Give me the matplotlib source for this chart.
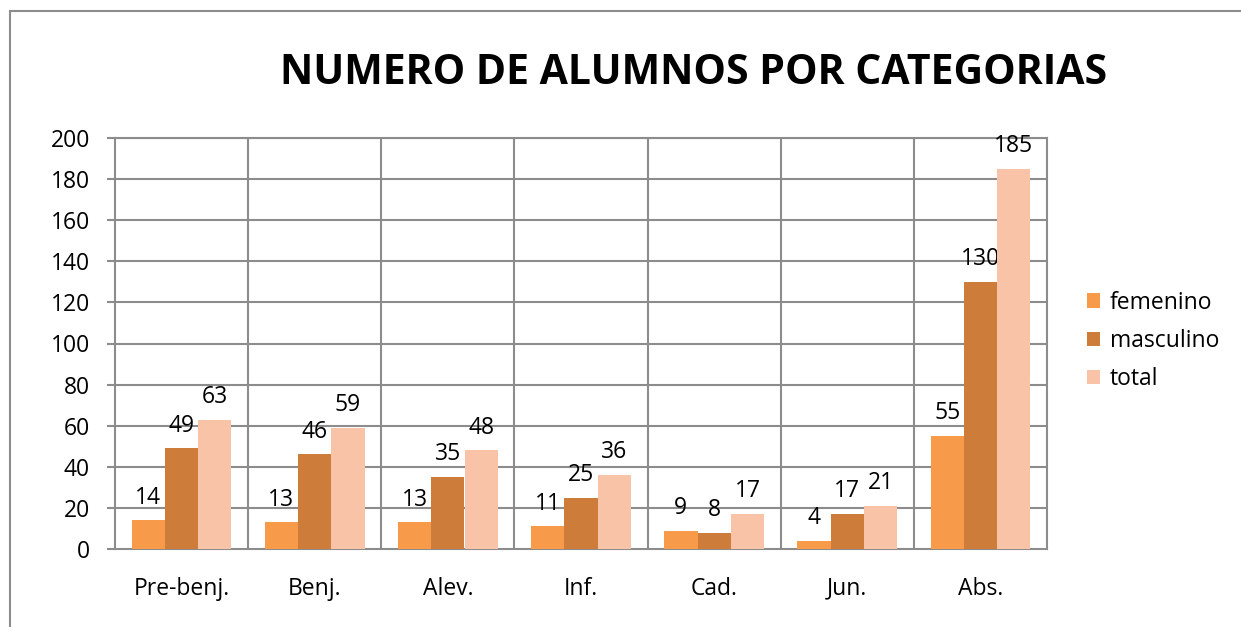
import numpy as np
import matplotlib.pyplot as plt
from matplotlib.patches import Rectangle

# datos del grafico
categorias = ["Pre-benj.", "Benj.", "Alev.", "Inf.", "Cad.", "Jun.", "Abs."]
femenino = [14, 13, 13, 11, 9, 4, 55]
masculino = [49, 46, 35, 25, 8, 17, 130]
total = [63, 59, 48, 36, 17, 21, 185]
series = ["femenino", "masculino", "total"]
colores = ["#F79A4A", "#CD7C39", "#F9C3A8"]

plt.rcParams['font.family'] = ['Open Sans', 'DejaVu Sans']

fig = plt.figure(figsize=(12.41, 6.27), dpi=100)
fig.patches.append(Rectangle((10/1241, -0.2), 1.2, 1.2 - 11/627, transform=fig.transFigure,
                             fill=False, edgecolor="#8c8c8c", linewidth=1.5))

ax = fig.add_axes([115/1241, 1 - 549/627, (1047 - 115)/1241, (549 - 138)/627])

x = np.arange(len(categorias))
w = 0.25
for i, (vals, nombre, c) in enumerate(zip([femenino, masculino, total], series, colores)):
    bars = ax.bar(x + (i - 1)*w, vals, w, color=c, label=nombre, zorder=3)
    for b, v in zip(bars, vals):
        ax.annotate(str(v), (b.get_x() + b.get_width()/2, v), xytext=(0, 12),
                    textcoords="offset points", ha="center", va="baseline", fontsize=16.5)

ax.set_xlim(-0.5, len(categorias) - 0.5)
ax.set_ylim(0, 200)
ax.set_yticks(np.arange(0, 201, 20))
ax.set_xticks(x)
ax.set_xticklabels(categorias, fontsize=16.5)
ax.tick_params(axis='y', labelsize=16.5, length=6, width=1.5, color="#8c8c8c", pad=12)
ax.tick_params(axis='x', length=0, pad=20)

# rejilla
for yv in np.arange(20, 201, 20):
    ax.axhline(yv, color="#8c8c8c", lw=1.5, zorder=1)
for xv in np.arange(0.5, len(categorias) - 0.5, 1):
    ax.axvline(xv, color="#8c8c8c", lw=1.5, zorder=1)
for s in ax.spines.values():
    s.set_color("#8c8c8c")
    s.set_linewidth(1.5)

fig.text(694/1241, 1 - 73/627, "NUMERO DE ALUMNOS POR CATEGORIAS", ha="center", va="center",
         fontsize=29.5, fontweight="bold")

fig.legend(loc="center left", bbox_to_anchor=(1066/1241, 1 - 341/627), frameon=False,
           fontsize=16.5, handlelength=0.6, handleheight=0.6, handletextpad=0.4, labelspacing=0.62)

fig.savefig("out.png", dpi=100)
